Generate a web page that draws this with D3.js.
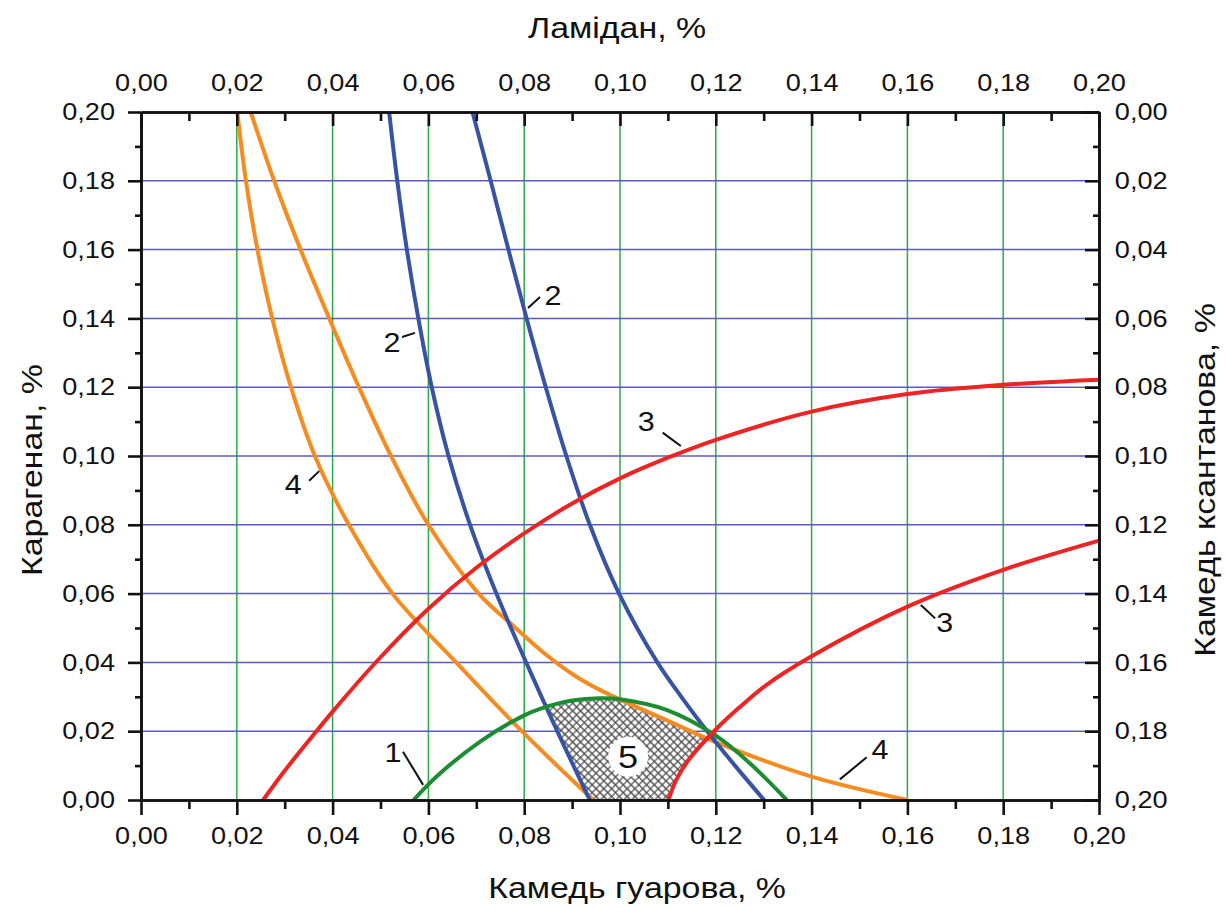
<!DOCTYPE html>
<html>
<head>
<meta charset="utf-8">
<script src="https://cdn.jsdelivr.net/npm/d3@7"></script>
<style>
  body { margin: 0; background: #fff; }
  text { font-family: "Liberation Sans", Arial, sans-serif; fill: #111; }
</style>
</head>
<body>
<svg width="1225" height="908"></svg>
<script>
// ticks
const majorTicks = [0, 0.02, 0.04, 0.06, 0.08, 0.10, 0.12, 0.14, 0.16, 0.18, 0.20];
const minorTicks = [0.01, 0.03, 0.05, 0.07, 0.09, 0.11, 0.13, 0.15, 0.17, 0.19];
const gridTicks = [0.02, 0.04, 0.06, 0.08, 0.10, 0.12, 0.14, 0.16, 0.18];

// curves: [камедь гуарова, карагенан]
const curve1 = [[0.0569, 0], [0.062, 0.0072], [0.0708, 0.017], [0.08, 0.0246], [0.0833, 0.0265],
  [0.09, 0.0289], [0.0958, 0.0296], [0.10, 0.0293], [0.1097, 0.0262], [0.12, 0.0187],
  [0.1271, 0.0107], [0.1348, 0]];
const curve2a = [[0.0518, 0.20], [0.0535, 0.18], [0.0555, 0.16], [0.0579, 0.14], [0.0607, 0.12],
  [0.0642, 0.10], [0.0687, 0.08], [0.0742, 0.06], [0.0804, 0.04], [0.0869, 0.02], [0.0937, 0]];
const curve2b = [[0.0692, 0.20], [0.073, 0.18], [0.0767, 0.16], [0.0805, 0.14], [0.0845, 0.12],
  [0.0888, 0.10], [0.0937, 0.08], [0.0998, 0.06], [0.1078, 0.04], [0.1128, 0.03],
  [0.1182, 0.02], [0.124, 0.01], [0.1301, 0]];
const curve3a = [[0.0255, 0], [0.03, 0.0085], [0.035, 0.0172], [0.04, 0.0257], [0.05, 0.0415],
  [0.06, 0.0556], [0.07, 0.0675], [0.08, 0.0775], [0.09, 0.0862], [0.10, 0.0935],
  [0.11, 0.0995], [0.12, 0.1047], [0.14, 0.1129], [0.16, 0.118], [0.18, 0.1207], [0.20, 0.1222]];
const curve3b = [[0.1101, 0], [0.1118, 0.006], [0.1145, 0.012], [0.12, 0.0205], [0.125, 0.027],
  [0.1306, 0.0335], [0.14, 0.0418], [0.16, 0.0562], [0.18, 0.0669], [0.20, 0.0754]];
const curve4a = [[0.0201, 0.20], [0.0219, 0.18], [0.0243, 0.16], [0.0274, 0.14], [0.0313, 0.12],
  [0.0363, 0.10], [0.0434, 0.08], [0.0525, 0.06], [0.0658, 0.04], [0.0795, 0.02], [0.0944, 0]];
const curve4b = [[0.0229, 0.20], [0.0278, 0.18], [0.0333, 0.16], [0.0393, 0.14], [0.0455, 0.12],
  [0.0522, 0.10], [0.06, 0.08], [0.0705, 0.06], [0.0778, 0.0505], [0.0843, 0.0425],
  [0.0905, 0.0362], [0.0965, 0.0315], [0.1097, 0.0232], [0.12, 0.0168], [0.14, 0.0068], [0.16, 0]];

// curve labels: text, label point, leader start, leader end
const labels = [
  {t: "1", p: [0.0526, 0.0137], a: [0.0547, 0.0140], b: [0.0589, 0.0044]},
  {t: "2", p: [0.0524, 0.1331], a: [0.0545, 0.1346], b: [0.0572, 0.1358]},
  {t: "2", p: [0.0860, 0.1465], a: [0.0808, 0.1430], b: [0.0833, 0.1462]},
  {t: "3", p: [0.1055, 0.1100], a: [0.1089, 0.1068], b: [0.1127, 0.1029]},
  {t: "3", p: [0.1678, 0.0515], a: [0.1628, 0.0567], b: [0.1658, 0.0528]},
  {t: "4", p: [0.0318, 0.0916], a: [0.0351, 0.0928], b: [0.0372, 0.0956]},
  {t: "4", p: [0.1543, 0.0145], a: [0.1459, 0.0060], b: [0.1515, 0.0124]}
];
const zoneLabel = {t: "5", p: [0.1017, 0.0126]};

const margin = {top: 112, left: 141},
      width = 958, height = 688;
const stretch = "scale(1.13,1)";
const fmt = d => d3.format(".2f")(d).replace(".", ",");

const svg = d3.select("svg");
const g = svg.append("g").attr("transform", `translate(${margin.left},${margin.top})`);

const x = d3.scaleLinear().domain([0, 0.2]).range([0, width]);
const y = d3.scaleLinear().domain([0, 0.2]).range([height, 0]);
const yRight = d3.scaleLinear().domain([0, 0.2]).range([0, height]);

const line = d3.line()
  .x(d => x(d[0]))
  .y(d => y(d[1]))
  .curve(d3.curveCatmullRom.alpha(0.5));

// grid
g.selectAll(".vgrid").data(gridTicks).enter().append("line")
  .attr("x1", d => x(d)).attr("x2", d => x(d))
  .attr("y1", 0).attr("y2", height)
  .attr("stroke", "#2ea84a").attr("stroke-width", 1.5);
g.selectAll(".hgrid").data(gridTicks).enter().append("line")
  .attr("y1", d => y(d)).attr("y2", d => y(d))
  .attr("x1", 0).attr("x2", width)
  .attr("stroke", "#5a5ac0").attr("stroke-width", 1.5);

// hatched zone 5
const defs = svg.append("defs");
const pat = defs.append("pattern")
  .attr("id", "hatch")
  .attr("patternUnits", "userSpaceOnUse")
  .attr("width", 5.5).attr("height", 5.5)
  .attr("patternTransform", "rotate(45)");
pat.append("rect").attr("width", 5.5).attr("height", 5.5).attr("fill", "#fff");
pat.append("path").attr("d", "M0,2.75H5.5M2.75,0V5.5")
  .attr("stroke", "#4a4a4a").attr("stroke-width", 1.2);

const clips = [
  ["clipGreen", line(curve1) + "Z"],
  ["clipOrange", line(curve4b) + `L${x(0)},${y(0)}L${x(0)},${y(0.2)}Z`],
  ["clipBlue", line(curve2a) + `L${x(0.2)},${y(0)}L${x(0.2)},${y(0.2)}Z`],
  ["clipRed", line(curve3b) + `L${x(0.2)},${y(0.2)}L${x(0)},${y(0.2)}L${x(0)},${y(0)}Z`]
];
clips.forEach(([id, d]) => defs.append("clipPath").attr("id", id).append("path").attr("d", d));

let zone = g;
clips.forEach(([id]) => { zone = zone.append("g").attr("clip-path", `url(#${id})`); });
zone.append("rect").attr("width", width).attr("height", height).attr("fill", "url(#hatch)");

// curves
const curves = [
  [curve4a, "#f68b1f"], [curve4b, "#f68b1f"],
  [curve2a, "#3953a4"], [curve2b, "#3953a4"],
  [curve1, "#1e8c32"],
  [curve3a, "#ee2424"], [curve3b, "#ee2424"]
];
g.selectAll(".curve").data(curves).enter().append("path")
  .attr("d", d => line(d[0]))
  .attr("fill", "none")
  .attr("stroke", d => d[1])
  .attr("stroke-width", 4);

// curve labels
g.selectAll(".leader").data(labels).enter().append("line")
  .attr("x1", d => x(d.a[0])).attr("y1", d => y(d.a[1]))
  .attr("x2", d => x(d.b[0])).attr("y2", d => y(d.b[1]))
  .attr("stroke", "#111").attr("stroke-width", 2);
g.selectAll(".lbl").data(labels).enter().append("text")
  .attr("transform", d => `translate(${x(d.p[0])},${y(d.p[1])}) ${stretch}`)
  .attr("text-anchor", "middle")
  .attr("dominant-baseline", "central")
  .attr("font-size", "27px")
  .text(d => d.t);

g.append("circle")
  .attr("cx", x(zoneLabel.p[0])).attr("cy", y(zoneLabel.p[1]))
  .attr("r", 20).attr("fill", "#fff");
g.append("text")
  .attr("transform", `translate(${x(zoneLabel.p[0])},${y(zoneLabel.p[1])}) ${stretch}`)
  .attr("text-anchor", "middle")
  .attr("dominant-baseline", "central")
  .attr("font-size", "32px")
  .text(zoneLabel.t);

// axes
function styleAxis(sel) {
  sel.selectAll("path, line").attr("stroke", "#111").attr("stroke-width", 2.6);
  sel.selectAll("text").attr("font-size", "24px").attr("fill", "#111")
    .attr("font-family", "Liberation Sans, Arial, sans-serif")
    .attr("transform", stretch);
}

const axB = g.append("g").attr("transform", `translate(0,${height})`)
  .call(d3.axisBottom(x).tickValues(majorTicks).tickFormat(fmt).tickSize(15).tickSizeOuter(0).tickPadding(12));
const axBm = g.append("g").attr("transform", `translate(0,${height})`)
  .call(d3.axisBottom(x).tickValues(minorTicks).tickFormat("").tickSize(9).tickSizeOuter(0));
const axT = g.append("g")
  .call(d3.axisTop(x).tickValues(majorTicks).tickFormat(fmt).tickSize(-14).tickSizeOuter(0).tickPadding(21));
const axTm = g.append("g")
  .call(d3.axisTop(x).tickValues(minorTicks).tickFormat("").tickSize(-9).tickSizeOuter(0));
const axL = g.append("g")
  .call(d3.axisLeft(y).tickValues(majorTicks).tickFormat(fmt).tickSize(13).tickSizeOuter(0).tickPadding(10));
const axLm = g.append("g")
  .call(d3.axisLeft(y).tickValues(minorTicks).tickFormat("").tickSize(6).tickSizeOuter(0));
const axR = g.append("g").attr("transform", `translate(${width},0)`)
  .call(d3.axisRight(yRight).tickValues(majorTicks).tickFormat(fmt).tickSize(-14).tickSizeOuter(0).tickPadding(14));
const axRm = g.append("g").attr("transform", `translate(${width},0)`)
  .call(d3.axisRight(yRight).tickValues(minorTicks).tickFormat("").tickSize(-6).tickSizeOuter(0));
[axB, axBm, axT, axTm, axL, axLm, axR, axRm].forEach(styleAxis);

// axis titles
svg.append("text")
  .attr("transform", `translate(617,38) ${stretch}`)
  .attr("text-anchor", "middle").attr("font-size", "30px")
  .text("Ламідан, %");
svg.append("text")
  .attr("transform", `translate(637,898) ${stretch}`)
  .attr("text-anchor", "middle").attr("font-size", "30px")
  .text("Камедь гуарова, %");
svg.append("text")
  .attr("transform", `translate(42,470) rotate(-90) ${stretch}`)
  .attr("text-anchor", "middle").attr("font-size", "30px")
  .text("Карагенан, %");
svg.append("text")
  .attr("transform", `translate(1215,480) rotate(-90) ${stretch}`)
  .attr("text-anchor", "middle").attr("font-size", "30px")
  .text("Камедь ксантанова, %");
</script>
</body>
</html>
